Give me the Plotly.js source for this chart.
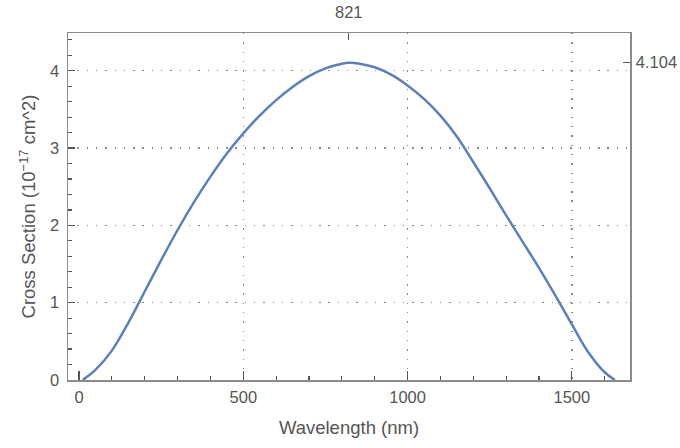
<!DOCTYPE html>
<html>
<head>
<meta charset="utf-8">
<script src="https://cdn.plot.ly/plotly-3.0.1.min.js"></script>
<style>html,body{margin:0;padding:0;background:#fff;}#chart{width:680px;height:448px;}</style>
</head>
<body>
<div id="chart"></div>
<script>
// Wavelength (nm) and cross section (10^-17 cm^2)
const wavelength = [11, 50, 100, 150, 200, 250, 300, 350, 400, 450, 500, 550, 600, 650, 700, 750, 800, 821, 850, 900, 950, 1000, 1050, 1100, 1150, 1200, 1250, 1300, 1350, 1400, 1450, 1500, 1550, 1600, 1631];
const crossSection = [0, 0.13, 0.38, 0.74, 1.145, 1.55, 1.94, 2.30, 2.63, 2.93, 3.19, 3.42, 3.62, 3.79, 3.93, 4.03, 4.09, 4.104, 4.095, 4.045, 3.95, 3.81, 3.635, 3.42, 3.15, 2.82, 2.48, 2.13, 1.79, 1.45, 1.09, 0.72, 0.36, 0.10, 0];
const peakWavelength = [821];
const peakLabels = ['821'];
const peakValue = [4.104];
const peakValueLabels = ['4.104'];
const xGridVals = [500, 1000, 1500];

const xRange = [-33.5, 1677];
const yRange = [0, 4.488];
const FONT = 'Liberation Sans, Arial, sans-serif';
const TXT = '#555555';
const FRAME = '#8a8a8a';
const TICK = '#555555';

const traces = [
  {x: wavelength, y: crossSection, type: 'scatter', mode: 'lines',
   line: {color: '#5E81B5', width: 2.5, shape: 'spline', smoothing: 1},
   hoverinfo: 'skip', xaxis: 'x', yaxis: 'y'},
  {x: wavelength, y: crossSection, type: 'scatter', mode: 'lines',
   line: {color: 'rgba(0,0,0,0)', width: 0}, hoverinfo: 'skip', xaxis: 'x2', yaxis: 'y2', showlegend: false},
  {x: wavelength, y: crossSection, type: 'scatter', mode: 'lines',
   line: {color: 'rgba(0,0,0,0)', width: 0}, hoverinfo: 'skip', xaxis: 'x3', yaxis: 'y', showlegend: false}
];

const layout = {
  width: 680, height: 448,
  margin: {l: 68, r: 50, t: 33, b: 68},
  paper_bgcolor: '#fff', plot_bgcolor: '#fff',
  showlegend: false,
  font: {family: FONT, size: 16, color: TXT},
  xaxis: {
    range: xRange, tickmode: 'linear', tick0: 0, dtick: 500,
    ticks: 'inside', ticklen: 9, tickwidth: 1.2, tickcolor: TICK,
    minor: {ticks: 'inside', dtick: 100, tick0: 0, ticklen: 4.5, tickwidth: 1.2, tickcolor: TICK, showgrid: false},
    showline: true, linecolor: FRAME, linewidth: 1.5,
    showgrid: false, zeroline: false,
    tickfont: {family: FONT, size: 16.5, color: TXT},
    ticklabelstandoff: 2,
    title: {text: 'Wavelength (nm)', font: {family: FONT, size: 18.5, color: TXT}, standoff: 16}
  },
  xaxis3: {
    range: xRange, overlaying: 'x', anchor: 'y', side: 'bottom',
    tickmode: 'array', tickvals: xGridVals, showticklabels: false, ticks: '',
    showgrid: true, gridcolor: '#8a8a8a', gridwidth: 1.4, griddash: '1.4px,7.9px',
    showline: false, zeroline: false
  },
  xaxis2: {
    range: xRange, overlaying: 'x', anchor: 'y', side: 'top',
    tickmode: 'array', tickvals: peakWavelength, ticktext: peakLabels,
    ticks: 'inside', ticklen: 7, tickwidth: 1.2, tickcolor: TICK,
    showline: true, linecolor: FRAME, linewidth: 1.5,
    showgrid: false, zeroline: false,
    tickfont: {family: FONT, size: 16.5, color: TXT},
    ticklabelstandoff: 7
  },
  yaxis: {
    range: yRange, tickmode: 'linear', tick0: 0, dtick: 1,
    ticks: 'inside', ticklen: 7, tickwidth: 1.2, tickcolor: TICK,
    minor: {ticks: 'inside', dtick: 0.2, tick0: 0, ticklen: 4, tickwidth: 1.2, tickcolor: TICK, showgrid: false},
    showline: true, linecolor: FRAME, linewidth: 1.5,
    showgrid: true, gridcolor: '#8a8a8a', gridwidth: 1.4, griddash: '1.4px,7.9px',
    zeroline: false,
    tickfont: {family: FONT, size: 16.5, color: TXT},
    ticklabelstandoff: 4,
    title: {text: 'Cross Section (10<sup>−17</sup> cm^2)', font: {family: FONT, size: 18.5, color: TXT}, standoff: 9}
  },
  yaxis2: {
    range: yRange, overlaying: 'y', anchor: 'x', side: 'right',
    tickmode: 'array', tickvals: peakValue, ticktext: peakValueLabels,
    ticks: 'inside', ticklen: 7, tickwidth: 1.2, tickcolor: TICK,
    showline: true, linecolor: FRAME, linewidth: 1.5,
    showgrid: false, zeroline: false,
    tickfont: {family: FONT, size: 16.5, color: TXT},
    ticklabelstandoff: 1
  }
};

Plotly.newPlot('chart', traces, layout, {displayModeBar: false, staticPlot: true});
</script>
</body>
</html>
